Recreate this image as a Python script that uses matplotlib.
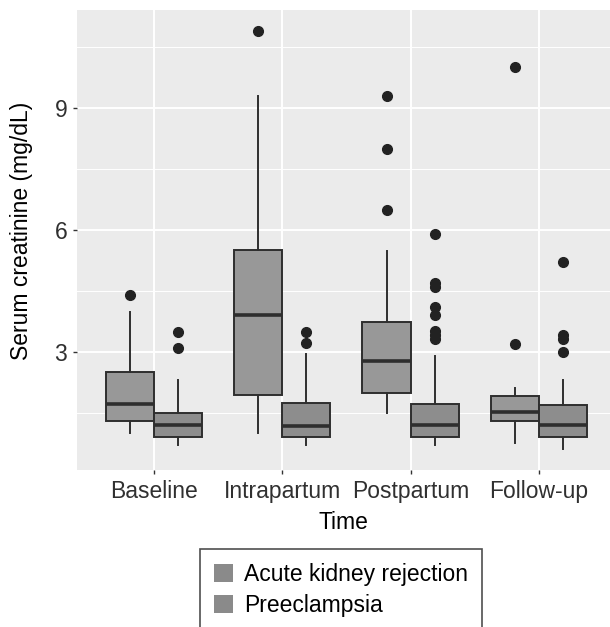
import numpy as np
import matplotlib.pyplot as plt
from matplotlib.patches import Patch

plt.rcParams['font.family'] = ['Liberation Sans', 'DejaVu Sans']

# -------------------------------------------------------------
# Data
# -------------------------------------------------------------
times = ['Baseline', 'Intrapartum', 'Postpartum', 'Follow-up']
groups = ['Acute kidney rejection', 'Preeclampsia']

# box statistics per time point: whisker low, Q1, median, Q3, whisker high
akr_whislo = [1.00, 1.00, 1.50, 0.75]
akr_q1 = [1.29, 1.94, 1.99, 1.29]
akr_med = [1.70, 3.91, 2.78, 1.52]
akr_q3 = [2.51, 5.51, 3.74, 1.90]
akr_whishi = [3.98, 9.29, 5.48, 2.10]
akr_fliers = [[4.40], [10.9], [9.29, 8.0, 6.49], [3.19, 10.0]]

pe_whislo = [0.70, 0.70, 0.70, 0.60]
pe_q1 = [0.89, 0.89, 0.89, 0.89]
pe_med = [1.20, 1.16, 1.20, 1.20]
pe_q3 = [1.50, 1.74, 1.70, 1.69]
pe_whishi = [2.31, 2.93, 2.89, 2.29]
pe_fliers = [[3.49, 3.08], [3.49, 3.21],
             [5.90, 4.70, 4.60, 4.11, 3.91, 3.52, 3.41, 3.31],
             [5.20, 3.41, 3.31, 3.00]]


def make_stats(lo, q1, med, q3, hi, fl):
    return [dict(whislo=a, q1=b, med=c, q3=d, whishi=e, fliers=f)
            for a, b, c, d, e, f in zip(lo, q1, med, q3, hi, fl)]


akr_stats = make_stats(akr_whislo, akr_q1, akr_med, akr_q3, akr_whishi, akr_fliers)
pe_stats = make_stats(pe_whislo, pe_q1, pe_med, pe_q3, pe_whishi, pe_fliers)

# -------------------------------------------------------------
# Figure
# -------------------------------------------------------------
fig = plt.figure(figsize=(6.10, 6.27), dpi=100)
ax = fig.add_axes([77 / 610, 1 - 470 / 627, 533 / 610, 460 / 627])
ax.set_facecolor('#ebebeb')

x = np.arange(1, len(times) + 1)
w = 0.375
edge = '#2e2e2e'
fs = 16.5


def draw(stats, pos, fill):
    ax.bxp(stats, positions=pos, widths=w, patch_artist=True,
           showcaps=False, zorder=3,
           boxprops=dict(facecolor=fill, edgecolor=edge, linewidth=1.4),
           medianprops=dict(color=edge, linewidth=2.6),
           whiskerprops=dict(color=edge, linewidth=1.4),
           flierprops=dict(marker='o', markersize=7, markerfacecolor='#222222',
                           markeredgecolor='#222222'))


draw(akr_stats, x - w / 2, '#989898')
draw(pe_stats, x + w / 2, '#8d8d8d')

ax.set_xlim(0.4, 0.4 + 533 / 128.3)
ax.set_ylim(0.085, 11.415)
ax.set_xticks(x)
ax.set_xticklabels(times)
ax.set_yticks([3, 6, 9])
ax.set_yticks([1.5, 4.5, 7.5, 10.5], minor=True)
ax.grid(True, which='major', color='white', linewidth=1.4, zorder=0)
ax.grid(True, which='minor', axis='y', color='white', linewidth=0.7, zorder=0)
ax.set_axisbelow(True)
for s in ax.spines.values():
    s.set_visible(False)
ax.tick_params(axis='both', which='major', length=3, width=1, color='#333333',
               labelsize=fs, labelcolor='#303030', pad=4)
ax.tick_params(axis='y', which='minor', length=0)

ax.set_xlabel('Time', fontsize=fs, labelpad=6)
ax.set_ylabel('Serum creatinine (mg/dL)', fontsize=fs)
ax.yaxis.set_label_coords(-0.083, 0.52)

handles = [Patch(facecolor='#8a8a8a', edgecolor='none', label=g) for g in groups]
leg = fig.legend(handles=handles, loc='upper center',
                 bbox_to_anchor=(341 / 610, 1 - 549 / 627), fontsize=fs,
                 frameon=True, fancybox=False, edgecolor='#222222',
                 handlelength=0.85, handleheight=0.85, handletextpad=0.5,
                 labelspacing=0.35, borderpad=0.6, borderaxespad=0)
leg.get_frame().set_linewidth(1.2)

fig.savefig('out.png', dpi=100)
